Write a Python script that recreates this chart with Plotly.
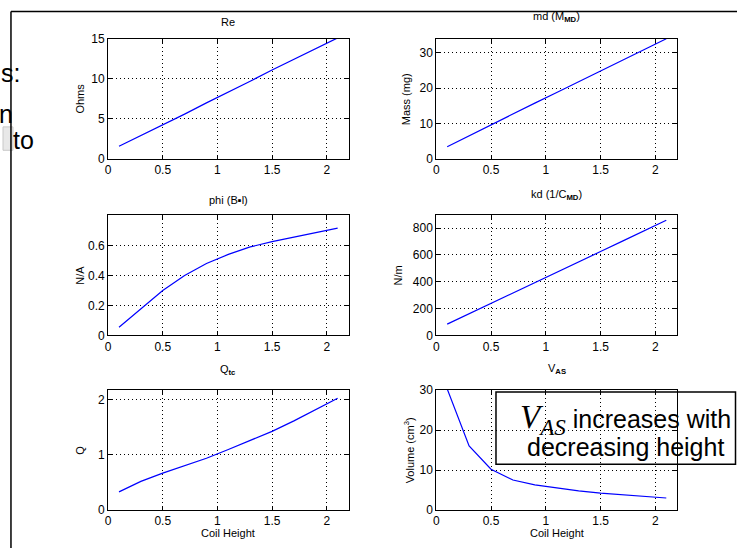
import plotly.graph_objects as go

W, H = 737, 555

# ---------------- data ----------------
coil_height = [0.1, 0.3, 0.5, 0.7, 0.9, 1.1, 1.3, 1.5, 1.7, 1.9, 2.1]
re_ohms = [1.6, 2.9, 4.3, 5.6, 7.0, 8.3, 9.7, 11.1, 12.4, 13.7, 15.1]
md_mass = [3.5, 6.6, 9.8, 12.7, 15.8, 18.8, 21.8, 24.9, 27.9, 31.0, 34.0]
phi_bl = [0.055, 0.18, 0.30, 0.40, 0.48, 0.54, 0.59, 0.625, 0.655, 0.685, 0.715]
kd_nm = [85, 163, 238, 318, 395, 470, 548, 625, 703, 780, 858]
q_tc = [0.33, 0.52, 0.67, 0.80, 0.94, 1.10, 1.26, 1.43, 1.62, 1.83, 2.03]
v_as = [30.3, 16.0, 10.2, 7.5, 6.3, 5.5, 4.8, 4.2, 3.8, 3.4, 3.0]

x_ticks = [0, 0.5, 1, 1.5, 2]
x_tick_labels = ["0", "0.5", "1", "1.5", "2"]
re_ticks = [0, 5, 10, 15]
md_ticks = [0, 10, 20, 30]
phi_ticks = [0, 0.2, 0.4, 0.6]
phi_tick_labels = ["0", "0.2", "0.4", "0.6"]
kd_ticks = [0, 200, 400, 600, 800]
q_ticks = [0, 1, 2]
v_ticks = [0, 10, 20, 30]

titles = ["Re", "md (M<sub><b>MD</b></sub>)", "phi (B▪l)",
          "kd (1/C<sub><b>MD</b></sub>)", "Q<sub><b>tc</b></sub>", "V<sub><b>AS</b></sub>"]
y_labels = ["Ohms", "Mass (mg)", "N/A", "N/m", "Q", "Volume (cm<sup>3</sup>)"]
x_label = "Coil Height"

# ---------------- layout geometry (pixels) ----------------
boxes = [
    (105.5, 347, 32.5, 156),
    (435, 677, 32.5, 156),
    (105.5, 347, 213, 337),
    (435, 677, 213, 337),
    (105.5, 347, 393, 516),
    (435, 677, 393, 516),
]
series = [re_ohms, md_mass, phi_bl, kd_nm, q_tc, v_as]
y_ranges = [[0, 15], [0, 34], [0, 0.805], [0, 900], [0, 2.18], [0, 30]]
y_tickvals = [re_ticks, md_ticks, phi_ticks, kd_ticks, q_ticks, v_ticks]
y_ticktext = [[str(v) for v in re_ticks], [str(v) for v in md_ticks], phi_tick_labels,
              [str(v) for v in kd_ticks], [str(v) for v in q_ticks], [str(v) for v in v_ticks]]
title_y = [15, 10, 198, 193, 372, 371]
ylabel_x = [77, 405, 77, 397, 77, 408]

FONT = "Liberation Sans, Arial, sans-serif"


def px(x):
    return x / W


def py(y):
    return 1 - y / H


fig = go.Figure()
annotations = []
shapes = []

for i, (l, r, t, b) in enumerate(boxes):
    n = "" if i == 0 else str(i + 1)
    fig.add_trace(go.Scatter(x=coil_height, y=series[i], mode="lines",
                             line=dict(color="#0000ff", width=1.2),
                             xaxis="x" + n, yaxis="y" + n, showlegend=False,
                             cliponaxis=True))
    common = dict(showline=True, linecolor="black", linewidth=1, mirror="ticks",
                  ticks="inside", ticklen=4, tickcolor="black",
                  showgrid=True, gridcolor="black", griddash="1px,3px", gridwidth=1,
                  zeroline=False, tickfont=dict(family=FONT, size=12, color="black"))
    fig.update_layout(**{
        "xaxis" + n: dict(domain=[px(l), px(r)], anchor="y" + n, range=[0, 2.2],
                          tickvals=x_ticks, ticktext=x_tick_labels, **common),
        "yaxis" + n: dict(domain=[py(b), py(t)], anchor="x" + n, range=y_ranges[i],
                          tickvals=y_tickvals[i], ticktext=y_ticktext[i], **common),
    })
    cx = (l + r) / 2
    annotations.append(dict(text=titles[i], x=px(cx), y=py(title_y[i]), xref="paper",
                            yref="paper", showarrow=False, xanchor="center",
                            yanchor="middle", font=dict(family=FONT, size=11, color="black")))
    annotations.append(dict(text=y_labels[i], x=px(ylabel_x[i]), y=py((t + b) / 2),
                            xref="paper", yref="paper", showarrow=False, textangle=-90,
                            xanchor="center", yanchor="middle",
                            font=dict(family=FONT, size=11, color="black")))
    if i >= 4:
        annotations.append(dict(text=x_label, x=px(cx), y=py(540), xref="paper",
                                yref="paper", showarrow=False, xanchor="center",
                                yanchor="middle",
                                font=dict(family=FONT, size=11, color="black")))

# callout box on the V_AS panel
shapes.append(dict(type="rect", xref="paper", yref="paper", x0=px(495), x1=px(735.5),
                   y0=py(469), y1=py(395), line=dict(color="black", width=1.5),
                   fillcolor="rgba(0,0,0,0)", layer="above"))
annotations.append(dict(
    text="<span style='font-family:Liberation Serif, Times New Roman, serif;font-size:33px'>"
         "<i>V<sub>AS</sub></i></span> increases with",
    x=px(625), y=py(423), xref="paper", yref="paper", showarrow=False,
    xanchor="center", yanchor="middle", align="center",
    font=dict(family=FONT, size=25, color="black")))
annotations.append(dict(
    text="decreasing height",
    x=px(625), y=py(451), xref="paper", yref="paper", showarrow=False,
    xanchor="center", yanchor="middle", align="center",
    font=dict(family=FONT, size=25, color="black")))

# slide frame and cut-off slide text on the left
shapes.append(dict(type="line", xref="paper", yref="paper", x0=px(8), x1=1,
                   y0=py(4.5), y1=py(4.5), line=dict(color="black", width=1.5)))
shapes.append(dict(type="line", xref="paper", yref="paper", x0=px(8), x1=px(8),
                   y0=py(4.5), y1=0, line=dict(color="black", width=1.5)))
shapes.append(dict(type="rect", xref="paper", yref="paper", x0=0, x1=px(10),
                   y0=py(147), y1=py(123), line=dict(color="#c8c8c8", width=1),
                   fillcolor="#e8e8e8", layer="below"))
for txt, xr, yc in [("s:", 19, 68), ("n", 12, 110), ("to", 33, 136)]:
    annotations.append(dict(text=txt, x=px(xr), y=py(yc), xref="paper", yref="paper",
                            showarrow=False, xanchor="right", yanchor="middle",
                            font=dict(family=FONT, size=25, color="black")))

fig.update_layout(width=W, height=H, margin=dict(l=0, r=0, t=0, b=0),
                  paper_bgcolor="white", plot_bgcolor="white",
                  annotations=annotations, shapes=shapes, showlegend=False)

fig.write_html("out.html")
